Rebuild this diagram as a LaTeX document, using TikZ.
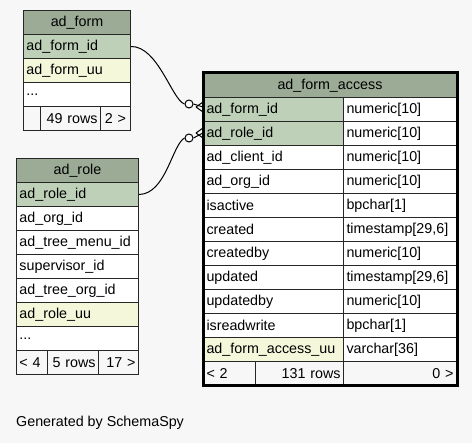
\documentclass[tikz,border=0pt]{standalone}
\usepackage{fontspec}
\setmainfont{Liberation Sans}
\usetikzlibrary{calc}
\definecolor{bgcol}{HTML}{F7F7F7}
\definecolor{headcol}{HTML}{9BAB96}
\definecolor{keycol}{HTML}{BED1B8}
\definecolor{uucol}{HTML}{F4F7DA}
\begin{document}
\begin{tikzpicture}[x=1pt,y=-1pt]
        \tikzstyle{cell}=[draw=black!85,line width=1pt,fill=white,anchor=north west,minimum height=24pt,inner xsep=3pt,inner ysep=0pt,align=left,font=\fontsize{14.3}{16}\selectfont]
        \tikzstyle{head}=[cell,fill=headcol,align=center]
        \tikzstyle{foot}=[cell,fill=bgcol]
        \tikzstyle{edge}=[draw,line width=1pt]
        \tikzstyle{odot}=[circle,draw,line width=1pt,fill=white,minimum size=8pt,inner sep=0pt]
       \useasboundingbox (0,0) rectangle (472,443);
       \fill[bgcol] (0,0) rectangle (472,443);

       % ad_form
       \begin{scope}
         \node [head,text width=101pt] (fh) at (23,10) {ad\_form};
         \node [cell,fill=keycol,text width=101pt] (f1) at (23,34) {ad\_form\_id};
         \node [cell,fill=uucol,text width=101pt] (f2) at (23,58) {ad\_form\_uu};
         \node [cell,text width=101pt] (f3) at (23,82) {...};
         \node [foot,text width=11pt] (ff1) at (23,106) {};
         \node [foot,text width=54pt,align=right] (ff2) at (40,106) {49 rows};
         \node [foot,text width=24pt,align=center] (ff3) at (100,106) {2 >};
       \end{scope}

       % ad_role
       \begin{scope}
         \node [head,text width=116pt] (rh) at (16,158) {ad\_role};
         \node [cell,fill=keycol,text width=116pt] (r1) at (16,182) {ad\_role\_id};
         \node [cell,text width=116pt] (r2) at (16,206) {ad\_org\_id};
         \node [cell,text width=116pt] (r3) at (16,230) {ad\_tree\_menu\_id};
         \node [cell,text width=116pt] (r4) at (16,254) {supervisor\_id};
         \node [cell,text width=116pt] (r5) at (16,278) {ad\_tree\_org\_id};
         \node [cell,fill=uucol,text width=116pt] (r6) at (16,302) {ad\_role\_uu};
         \node [cell,text width=116pt] (r7) at (16,326) {...};
         \node [foot,text width=25pt] (rf1) at (16,350) {< 4};
         \node [foot,text width=45pt,align=right] (rf2) at (47,350) {5 rows};
         \node [foot,text width=34pt,align=right] (rf3) at (98,350) {17 >};
       \end{scope}

       % ad_form_access
       \begin{scope}
         \node [head,text width=247pt] (ah) at (203,73) {ad\_form\_access};
         \foreach \nm/\ty/\cl [count=\i] in {ad\_form\_id/numeric[10]/keycol,ad\_role\_id/numeric[10]/keycol,
             ad\_client\_id/numeric[10]/white,ad\_org\_id/numeric[10]/white,isactive/bpchar[1]/white,
             created/{timestamp[29,6]}/white,createdby/numeric[10]/white,updated/{timestamp[29,6]}/white,
             updatedby/numeric[10]/white,isreadwrite/bpchar[1]/white,ad\_form\_access\_uu/varchar[36]/uucol}
         {
           \node [cell,fill=\cl,text width=134pt] (a\i) at (203,73+24*\i) {\nm};
           \node [cell,text width=107pt] (t\i) at (343,73+24*\i) {\ty};
         }
         \node [foot,text width=46pt] (af1) at (203,361) {< 2};
         \node [foot,text width=82pt,align=right] (af2) at (255,361) {131 rows};
         \node [foot,text width=107pt,align=right] (af3) at (343,361) {0 >};
         \draw [line width=3pt] (ah.north west) rectangle (af3.south east);
       \end{scope}

       % relations
       \node [odot] (c1) at (189,104) {};
       \node [odot] (c2) at (189,138) {};
       \coordinate (k1) at (203,107);
       \coordinate (k2) at (203,133);
       \path[edge] (f1.east) .. controls (158,46) and (172,100) .. (c1.west);
       \path[edge] (r1.east) .. controls (166,194) and (172,145) .. (c2.west);
       \path[edge] (c1.east) -- (k1);
       \path[edge] (c2.east) -- (k2);
       \path[edge] ($(k1)+(-7,0)$) -- ($(k1)+(0,-5)$) ($(k1)+(-7,0)$) -- ($(k1)+(0,5)$);
       \path[edge] ($(k2)+(-7,0)$) -- ($(k2)+(0,-5)$) ($(k2)+(-7,0)$) -- ($(k2)+(0,5)$);

       \node [anchor=west,inner sep=0pt,font=\fontsize{14.3}{16}\selectfont] (gen) at (16,423) {Generated by SchemaSpy};
      \end{tikzpicture}
\end{document}
